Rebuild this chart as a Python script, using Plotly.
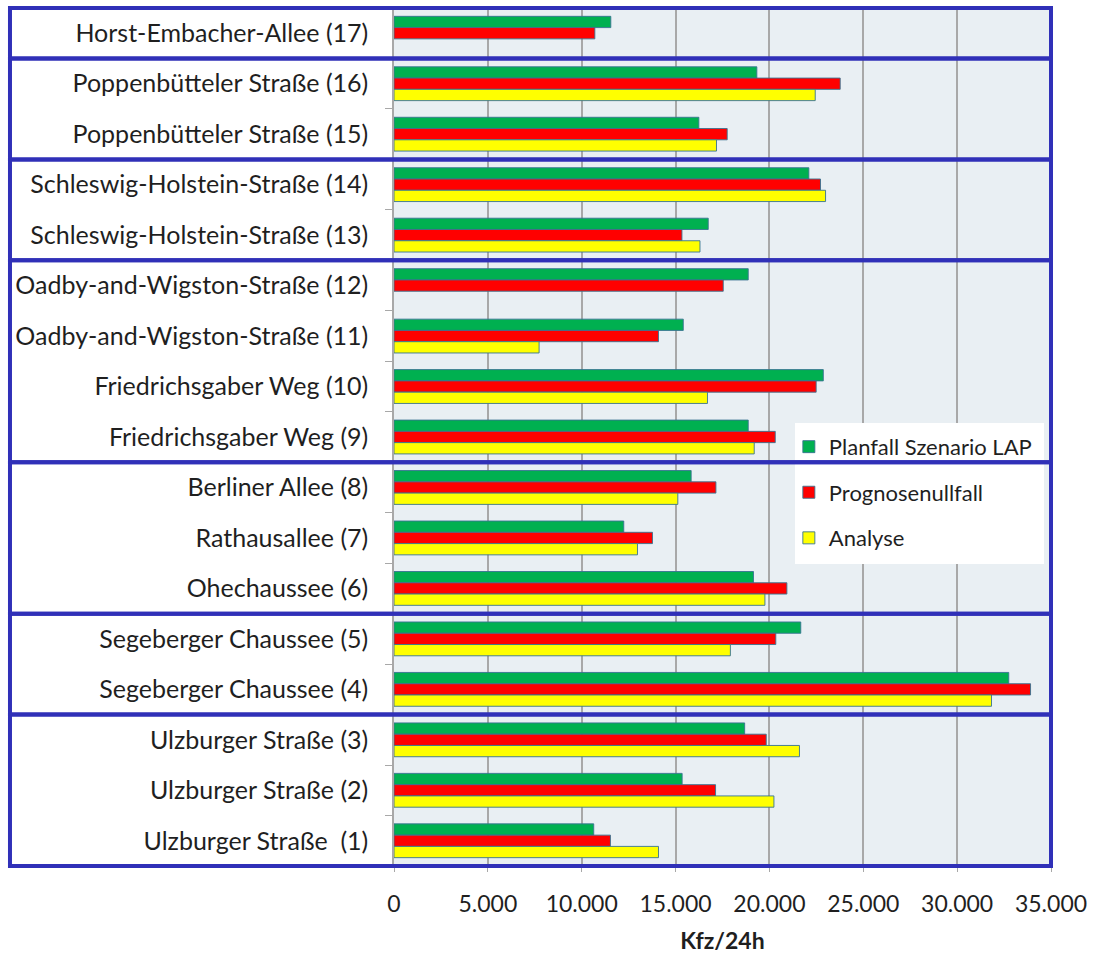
import plotly.graph_objects as go

categories = [
    "Horst-Embacher-Allee (17)",
    "Poppenbütteler Straße (16)",
    "Poppenbütteler Straße (15)",
    "Schleswig-Holstein-Straße (14)",
    "Schleswig-Holstein-Straße (13)",
    "Oadby-and-Wigston-Straße (12)",
    "Oadby-and-Wigston-Straße (11)",
    "Friedrichsgaber Weg (10)",
    "Friedrichsgaber Weg (9)",
    "Berliner Allee (8)",
    "Rathausallee (7)",
    "Ohechaussee (6)",
    "Segeberger Chaussee (5)",
    "Segeberger Chaussee (4)",
    "Ulzburger Straße (3)",
    "Ulzburger Straße (2)",
    "Ulzburger Straße\u00a0 (1)",
]

planfall = [11550, 19330, 16240, 22100, 16740, 18870, 15410, 22870, 18870,
            15830, 12240, 19150, 21670, 32750, 18680, 15350, 10640]
prognose = [10700, 23770, 17750, 22720, 15340, 17540, 14090, 22490, 20310,
            17150, 13770, 20930, 20340, 33910, 19830, 17130, 11530]
analyse = [None, 22440, 17180, 22990, 16300, None, 7730, 16700, 19190,
           15120, 12970, 19760, 17920, 31830, 21600, 20240, 14090]

series_names = ["Planfall Szenario LAP", "Prognosenullfall", "Analyse"]
series_colors = ["#00B050", "#FF0000", "#FFFF00"]

# rows per framed group, from top to bottom
groups = [1, 2, 2, 4, 3, 2, 3]

x_ticks = [0, 5000, 10000, 15000, 20000, 25000, 30000, 35000]

FONT = "Lato"

fig = go.Figure()
for name, vals, col in zip(series_names, [planfall, prognose, analyse], series_colors):
    fig.add_trace(go.Bar(
        y=categories, x=vals, name=name, orientation="h",
        marker=dict(color=col, line=dict(color="rgba(55,115,145,0.9)", width=1)),
        legendgroup=name,
    ))

n = len(categories)
shapes = []
# white legend background
shapes.append(dict(type="rect", xref="paper", yref="paper",
                   x0=0.6104, x1=0.9893, y0=0.352, y1=0.5163,
                   fillcolor="white", line=dict(width=0), layer="above"))
start = 0
for g in groups:
    end = start + g
    shapes.append(dict(type="rect", xref="paper", yref="paper",
                       x0=-0.5845, x1=1.0, y0=1 - end / n, y1=1 - start / n,
                       line=dict(color="#3030B8", width=4), fillcolor="rgba(0,0,0,0)",
                       layer="above"))
    start = end

fig.update_layout(
    width=1094, height=957,
    margin=dict(l=394, r=43, t=8, b=91),
    paper_bgcolor="white",
    plot_bgcolor="#E9EFF3",
    barmode="group", bargap=0.33, bargroupgap=0,
    separators=",.",
    font=dict(family=FONT, size=24, color="#1f1f1f"),
    shapes=shapes,
    showlegend=True,
    legend=dict(x=0.601, y=0.513, xanchor="left", yanchor="top",
                bgcolor="rgba(0,0,0,0)", font=dict(size=22, family=FONT),
                tracegroupgap=14, traceorder="grouped"),
    xaxis=dict(range=[0, 35000], tickvals=x_ticks, tickformat=",d",
               showgrid=True, gridcolor="#A8A8A8", gridwidth=1.5,
               zeroline=False, showline=False,
               ticks="outside", ticklen=5, tickcolor="#A8A8A8",
               tickfont=dict(size=23), ticklabelstandoff=12,
               title=dict(text="<b>Kfz/24h</b>", font=dict(size=23), standoff=17)),
    yaxis=dict(type="category", categoryorder="array", categoryarray=categories,
               autorange="reversed", showgrid=False,
               showline=True, linecolor="#A8A8A8", linewidth=1.5,
               ticks="outside", tickson="boundaries", ticklen=7, tickcolor="#A8A8A8",
               tickfont=dict(size=25), ticklabelstandoff=19),
)

fig.write_html("out.html")
